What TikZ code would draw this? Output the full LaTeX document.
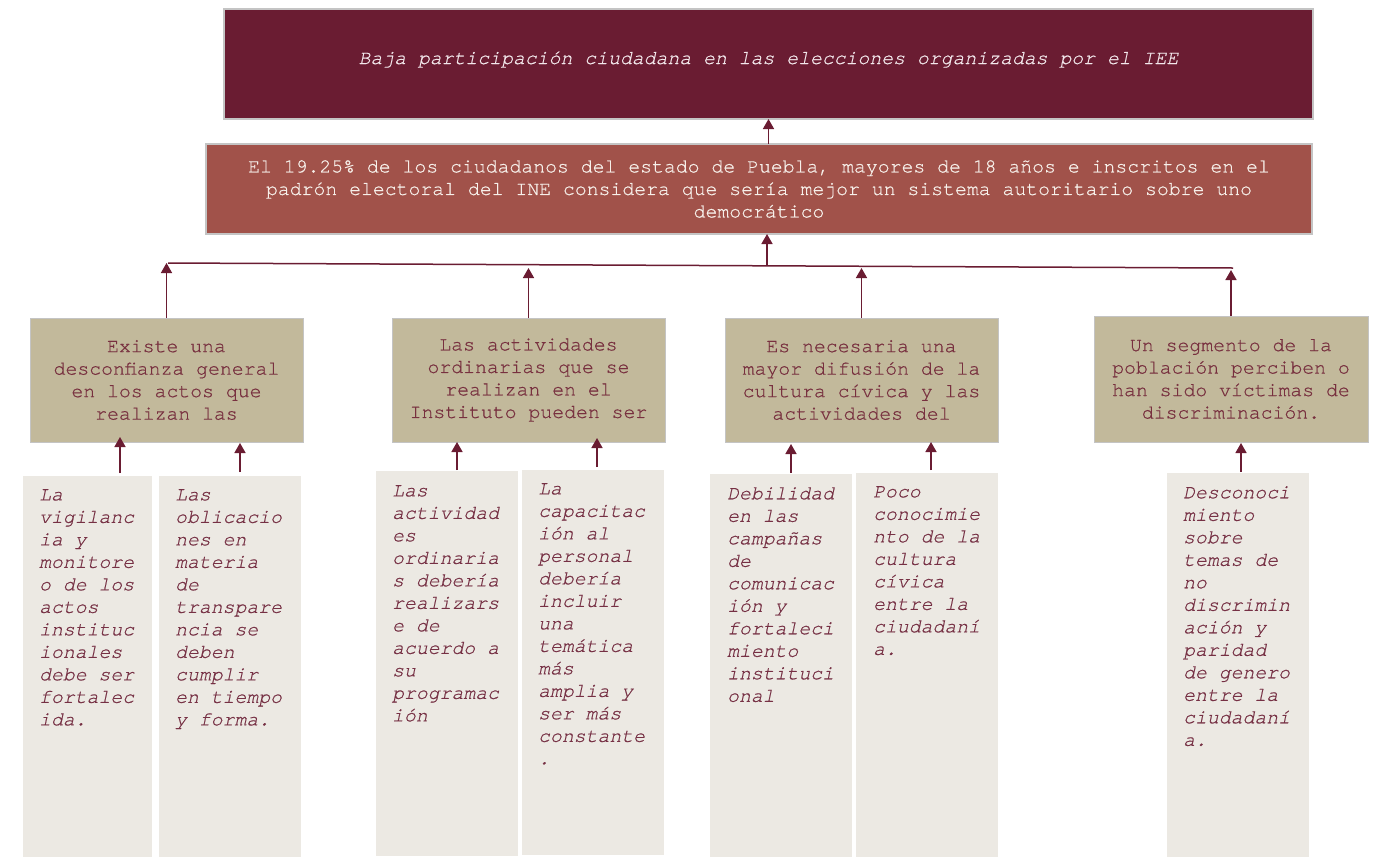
\documentclass[tikz,border=0pt]{standalone}
\usepackage{fontspec}
\setmonofont{texgyrecursor}[Extension=.otf, UprightFont=*-regular, ItalicFont=*-italic, BoldFont=*-bold,
  UprightFeatures={FakeBold=0.6}, ItalicFeatures={FakeBold=0.6}]
\usetikzlibrary{arrows.meta,calc}
\frenchspacing
\definecolor{topc}{HTML}{6A1C32}
\definecolor{secc}{HTML}{A1524A}
\definecolor{midc}{HTML}{C2B99B}
\definecolor{botc}{HTML}{ECE9E3}
\definecolor{arrc}{HTML}{6A1C32}
\definecolor{midtxt}{HTML}{78303F}
\definecolor{bottxt}{HTML}{763044}
\definecolor{toptxt}{HTML}{F3E8EC}
\definecolor{sectxt}{HTML}{F7F0EA}
\definecolor{edgec}{HTML}{C4C4C4}
\tikzset{
  every node/.style={font=\ttfamily\fontsize{19.8}{22.5}\selectfont},
  boxbase/.style={anchor=north west, inner sep=0pt, outer sep=0pt},
  topbox/.style={boxbase, fill=topc, draw=edgec, line width=1.2pt},
  secbox/.style={boxbase, fill=secc, draw=edgec, line width=1.2pt, text=sectxt, align=center},
  midbox/.style={boxbase, fill=midc, draw=edgec, line width=0.8pt, text=midtxt, align=center,
                 minimum width=273pt, minimum height=124pt},
  botbox/.style={boxbase, fill=botc, minimum width=142pt},
  bottext/.style={anchor=north west, inner sep=0pt, text=bottxt, align=left,
                  font=\ttfamily\itshape\fontsize{19.8}{22.5}\selectfont},
  toptext/.style={anchor=base, inner sep=0pt, text=toptxt,
                  font=\ttfamily\itshape\fontsize{19.8}{22.5}\selectfont},
  arr/.style={draw=arrc, line width=1.5pt, -{Triangle[width=11pt,length=10pt]}},
  bus/.style={draw=arrc, line width=1.5pt},
}
\begin{document}
\begin{tikzpicture}[x=1pt,y=-1pt]
\useasboundingbox[fill=white] (0,0) rectangle (1391,857);

% top boxes
\node[topbox, minimum width=1089pt, minimum height=110pt] (t) at (224,9) {};
\node[toptext] (tt) at (768.5,64) {Baja participación ciudadana en las elecciones organizadas por el IEE};
\node[secbox, minimum width=1106pt, minimum height=90pt] (s) at (206,144)
  {El 19.25\% de los ciudadanos del estado de Puebla, mayores de 18 años e inscritos en el\\
   padrón electoral del INE considera que sería mejor un sistema autoritario sobre uno\\
   democrático};

% middle boxes
\node[midbox] (m1) at (30,318) {Existe una\\desconfianza general\\en los actos que\\realizan las};
\node[midbox] (m2) at (392,318) {Las actividades\\ordinarias que se\\realizan en el\\Instituto pueden ser};
\node[midbox] (m3) at (725,318) {Es necesaria una\\mayor difusión de la\\cultura cívica y las\\actividades del};
\node[midbox, minimum width=274pt, minimum height=126pt] (m4) at (1094,316) {Un segmento de la\\población perciben o\\han sido víctimas de\\discriminación.};

% bottom boxes
\node[botbox, minimum width=129pt, minimum height=381pt] (b1) at (23,476) {};
\node[botbox, minimum height=381pt] (b2) at (159,476) {};
\node[botbox, minimum height=385pt] (b3) at (376,471) {};
\node[botbox, minimum height=385pt] (b4) at (522,470) {};
\node[botbox, minimum height=383pt] (b5) at (710,474) {};
\node[botbox, minimum height=384pt] (b6) at (856,473) {};
\node[botbox, minimum height=384pt] (b7) at (1167,473) {};

\node[bottext] (b1t) at (39,489) {La\\vigilanc\\ia y\\monitore\\o de los\\actos\\instituc\\ionales\\debe ser\\fortalec\\ida.};
\node[bottext] (b2t) at (175,489) {Las\\oblicacio\\nes en\\materia\\de\\transpare\\ncia se\\deben\\cumplir\\en tiempo\\y forma.};
\node[bottext] (b3t) at (392,485) {Las\\actividad\\es\\ordinaria\\s debería\\realizars\\e de\\acuerdo a\\su\\programac\\ión};
\node[bottext] (b4t) at (538,483) {La\\capacitac\\ión al\\personal\\debería\\incluir\\una\\temática\\más\\amplia y\\ser más\\constante\\.};
\node[bottext] (b5t) at (727,487) {Debilidad\\en las\\campañas\\de\\comunicac\\ión y\\fortaleci\\miento\\instituci\\onal};
\node[bottext] (b6t) at (873,486) {Poco\\conocimie\\nto de la\\cultura\\cívica\\entre la\\ciudadaní\\a.};
\node[bottext] (b7t) at (1183,486) {Desconoci\\miento\\sobre\\temas de\\no\\discrimin\\ación y\\paridad\\de genero\\entre la\\ciudadaní\\a.};

% connectors
\coordinate (busL) at (168,263);
\coordinate (busR) at (1233,268);
\coordinate (busM) at (767,265.3);
\draw[bus] (busL) -- (busR);
\draw[arr] (t.south |- s.north) -- (t.south);
\draw[arr] (busM) -- (busM |- s.south);
\draw[arr] (m1.north) -- (m1.north |- busL);
\draw[arr] (m2.north) -- ++(0,-50);
\draw[arr] (m3.north) -- ++(0,-50);
\draw[arr] (m4.north) -- ++(0,-46);

\draw[arr] ($(b1.north west)+(97,-3)$) -- ++(0,-36);
\draw[arr] ($(b2.north west)+(81,-4)$) -- ++(0,-29);
\draw[arr] ($(b3.north west)+(81,-1)$) -- ++(0,-28);
\draw[arr] ($(b4.north west)+(75,-3)$) -- ++(0,-29);
\draw[arr] ($(b5.north west)+(81,-1)$) -- ++(0,-29);
\draw[arr] ($(b6.north west)+(75,-3)$) -- ++(0,-28);
\draw[arr] ($(b7.north west)+(74,-1)$) -- ++(0,-29);
\end{tikzpicture}
\end{document}
